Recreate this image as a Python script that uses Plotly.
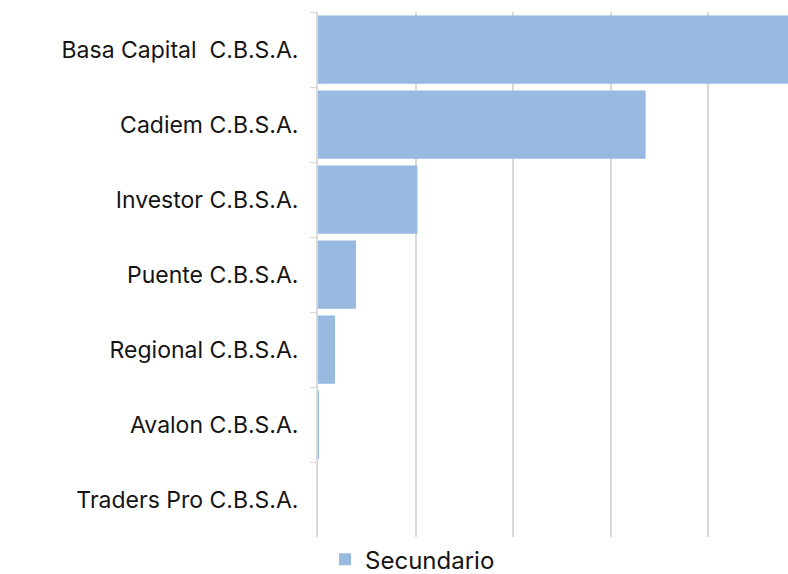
import plotly.graph_objects as go

# Casas de bolsa, de arriba hacia abajo
categorias = ["Basa Capital  C.B.S.A.", "Cadiem C.B.S.A.", "Investor C.B.S.A.",
              "Puente C.B.S.A.", "Regional C.B.S.A.", "Avalon C.B.S.A.",
              "Traders Pro C.B.S.A."]
secundario = [50.0, 33.6, 10.2, 3.9, 1.75, 0.08, 0.0]

fig = go.Figure()
fig.add_trace(go.Bar(
    y=categorias,
    x=secundario,
    orientation="h",
    name="Secundario",
    marker=dict(color="#98b9e0", line=dict(width=0)),
))

fig.update_layout(
    width=788, height=574,
    margin=dict(l=318, r=0, t=12, b=29),
    paper_bgcolor="white",
    plot_bgcolor="white",
    bargap=0.09,
    font=dict(family="Inter, sans-serif", size=23, color="#151515"),
    showlegend=True,
    legend=dict(orientation="h", x=0.015, xref="paper", y=0.025, yref="container",
                xanchor="left", yanchor="middle",
                font=dict(size=24), itemsizing="constant"),
)
fig.update_xaxes(
    range=[0, 48.2], dtick=10, showticklabels=False,
    showgrid=True, gridcolor="#d9d9d9", gridwidth=1.5,
    zeroline=False, showline=False,
)
fig.update_yaxes(
    autorange="reversed", showline=True, linecolor="#d9d9d9", linewidth=2,
    ticks="outside", tickson="boundaries", ticklen=6, tickcolor="#d9d9d9",
    ticksuffix="  ", showgrid=False,
)

# sin margen del body para que el gráfico ocupe la ventana completa
fig.write_html("out.html", config={"displayModeBar": False},
               post_script="document.body.style.margin='0';document.body.style.overflow='hidden';")
